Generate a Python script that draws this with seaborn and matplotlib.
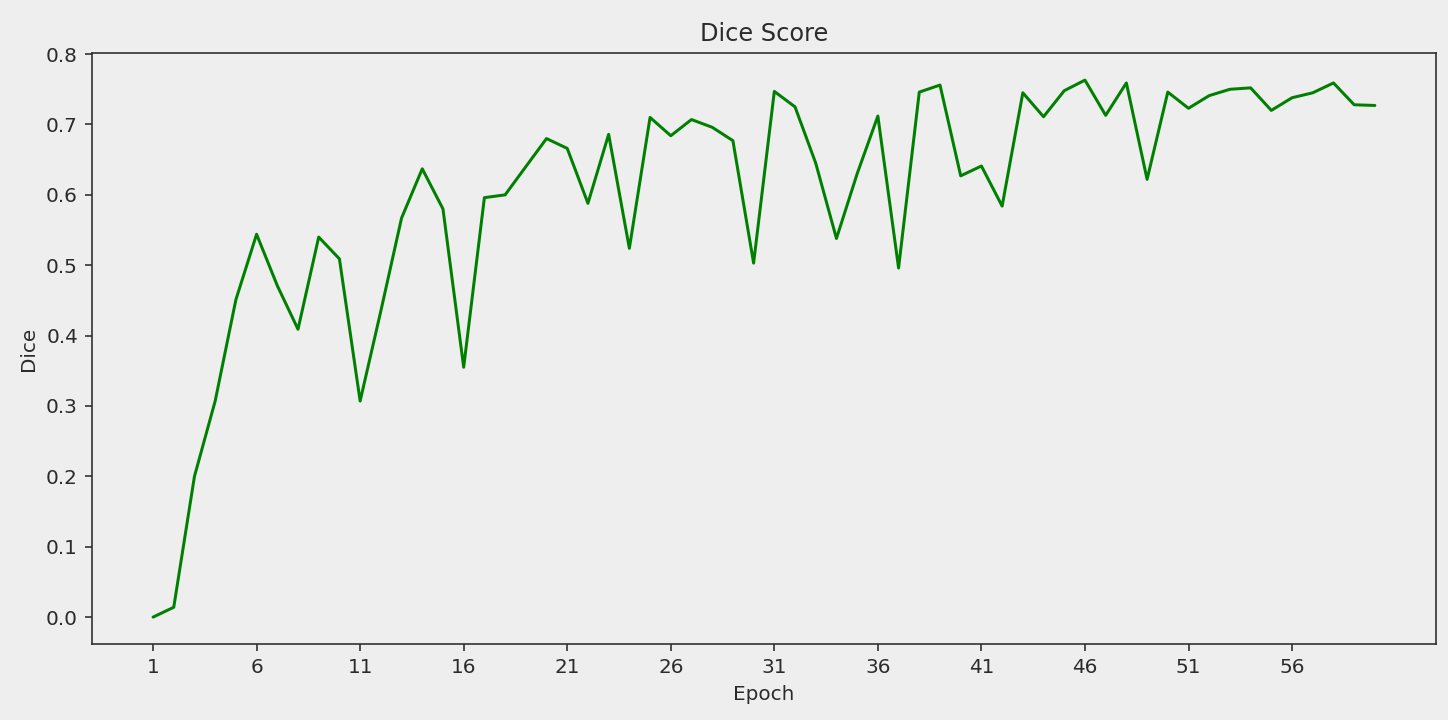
import numpy as np
import pandas as pd
import matplotlib
matplotlib.use("Agg")
import matplotlib.pyplot as plt
import seaborn as sns

# Dice score per epoch
epochs = list(range(1, 61))
dice = [0.000, 0.014, 0.200, 0.307, 0.451, 0.544, 0.471, 0.409, 0.540, 0.509,
        0.307, 0.435, 0.567, 0.637, 0.580, 0.355, 0.596, 0.600, 0.640, 0.680,
        0.666, 0.588, 0.686, 0.524, 0.710, 0.684, 0.707, 0.696, 0.677, 0.503,
        0.747, 0.725, 0.645, 0.538, 0.630, 0.712, 0.496, 0.746, 0.756, 0.627,
        0.641, 0.584, 0.745, 0.711, 0.748, 0.763, 0.713, 0.759, 0.622, 0.746,
        0.723, 0.741, 0.750, 0.752, 0.720, 0.738, 0.745, 0.759, 0.728, 0.727]
xtick_epochs = list(range(1, 61, 5))

df = pd.DataFrame({"Epoch": epochs, "Dice": dice})

sns.set_theme(style="ticks", rc={
    "figure.facecolor": "#eeeeee",
    "axes.facecolor": "#eeeeee",
    "axes.edgecolor": "#2b2b2b",
    "axes.labelcolor": "#2b2b2b",
    "text.color": "#2b2b2b",
    "xtick.color": "#2b2b2b",
    "ytick.color": "#2b2b2b",
    "axes.linewidth": 0.8,
    "xtick.major.size": 3.5,
    "ytick.major.size": 3.5,
    "xtick.major.width": 0.8,
    "ytick.major.width": 0.8,
    "xtick.major.pad": 3.5,
    "ytick.major.pad": 3.5,
})
plt.rcParams["font.family"] = ["DejaVu Sans"]

fig, ax = plt.subplots(figsize=(1448 / 144, 720 / 144), dpi=144)
sns.lineplot(data=df, x="Epoch", y="Dice", color="green", linewidth=1.5, ax=ax)

ax.set_xticks(xtick_epochs)
ax.set_title("Dice Score", fontsize=12)
ax.set_xlabel("Epoch", fontsize=10)
ax.set_ylabel("Dice", fontsize=10)
ax.tick_params(labelsize=10)

fig.subplots_adjust(left=0.0635, right=0.9917, top=0.926, bottom=0.1056)
plt.savefig("out.png", dpi=144)
